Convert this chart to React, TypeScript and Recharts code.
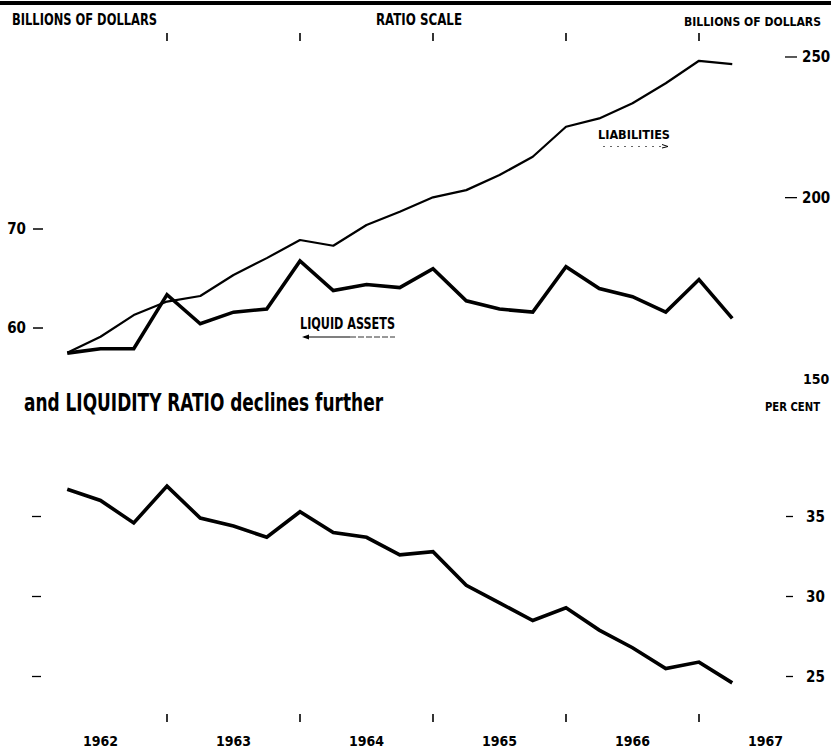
import React from 'react';
import { LineChart, Line, XAxis, YAxis } from 'recharts';

const FONT = "'Liberation Sans Narrow', 'DejaVu Sans Condensed', 'Roboto Condensed', 'Liberation Sans', sans-serif";

// quarter-end dates (years)
const quarterEnds = [
  1962.25, 1962.5, 1962.75, 1963.0,
  1963.25, 1963.5, 1963.75, 1964.0,
  1964.25, 1964.5, 1964.75, 1965.0,
  1965.25, 1965.5, 1965.75, 1966.0,
  1966.25, 1966.5, 1966.75, 1967.0,
  1967.25,
];
// billions of dollars (left, ratio scale)
const liquidAssets = [
  57.7, 58.1, 58.1, 63.2, 60.4, 61.5, 61.8, 66.6, 63.6, 64.2, 63.9,
  65.8, 62.6, 61.8, 61.5, 66.0, 63.8, 63.0, 61.5, 64.7, 60.9,
];
// billions of dollars (right, ratio scale)
const liabilities = [
  156.4, 160.4, 166.0, 169.6, 171.1, 176.9, 181.7, 187.0, 185.3, 191.5, 195.6,
  200.1, 202.4, 207.3, 213.4, 223.8, 226.8, 232.3, 239.8, 248.5, 247.2,
];
// per cent
const liquidityRatio = [
  36.7, 36.0, 34.6, 36.9, 34.9, 34.4, 33.7, 35.3, 34.0, 33.7, 32.6,
  32.8, 30.7, 29.6, 28.5, 29.3, 27.9, 26.8, 25.5, 25.9, 24.6,
];

const leftTicks = [60, 70];
const rightTicks = [150, 200, 250];
const ratioTicks = [25, 30, 35];
const yearBoundaries = [1963, 1964, 1965, 1966, 1967];
const yearLabels = ['1962', '1963', '1964', '1965', '1966', '1967'];
const yearLabelPositions = [1962.5, 1963.5, 1964.5, 1965.5, 1966.5, 1967.5];

const topData = quarterEnds.map((t, i) => ({ t, liquid: liquidAssets[i], liab: liabilities[i] }));
const bottomData = quarterEnds.map((t, i) => ({ t, ratio: liquidityRatio[i] }));

const W = 831;
const H = 748;
const X_DOMAIN: [number, number] = [1962, 1962 + 736 / 133];

const TopTick = (props: any) => {
  const { x } = props;
  return <line x1={x} x2={x} y1={33} y2={41} stroke="#000" strokeWidth={1.6} />;
};

const LeftTopTick = (props: any) => {
  const { y, payload } = props;
  return (
    <g>
      <text x={26} y={y} dy={5} textAnchor="end" fontFamily={FONT} fontWeight="bold" fontSize={15} fill="#000">
        {payload.value}
      </text>
      <line x1={33} x2={43} y1={y} y2={y} stroke="#000" strokeWidth={1.5} />
    </g>
  );
};

const RightTopTick = (props: any) => {
  const { y, payload } = props;
  const v = payload.value;
  if (v === 150) {
    return (
      <text x={803} y={y} dy={5} fontFamily={FONT} fontWeight="bold" fontSize={14} fill="#000">
        {v}
      </text>
    );
  }
  return (
    <g>
      <line x1={785} x2={797} y1={y} y2={y} stroke="#000" strokeWidth={1.3} />
      <text x={802} y={y} dy={5} fontFamily={FONT} fontWeight="bold" fontSize={15} fill="#000">
        {v}
      </text>
    </g>
  );
};

const BottomXTick = (props: any) => {
  const { x, payload } = props;
  const v = payload.value;
  if (Number.isInteger(v)) {
    return <line x1={x} x2={x} y1={714} y2={722} stroke="#000" strokeWidth={1.6} />;
  }
  const idx = yearLabelPositions.indexOf(v);
  return (
    <text x={x} y={746} textAnchor="middle" fontFamily={FONT} fontWeight="bold" fontSize={14} fill="#000">
      {yearLabels[idx]}
    </text>
  );
};

const LeftBottomTick = (props: any) => {
  const { y } = props;
  return <line x1={32} x2={41} y1={y} y2={y} stroke="#000" strokeWidth={1.3} />;
};

const RightBottomTick = (props: any) => {
  const { y, payload } = props;
  return (
    <g>
      <line x1={786} x2={793} y1={y} y2={y} stroke="#000" strokeWidth={1.3} />
      <text x={806} y={y} dy={5} fontFamily={FONT} fontWeight="bold" fontSize={15} fill="#000">
        {payload.value}
      </text>
    </g>
  );
};

export default function App() {
  const bottomTicks = [...yearLabelPositions, ...yearBoundaries].sort((a, b) => a - b);
  return (
    <div style={{ position: 'absolute', left: 0, top: 0, width: W, height: H, background: '#fff' }}>
      <div style={{ position: 'absolute', left: 0, top: 0 }}>
        <LineChart width={W} height={H} data={topData} margin={{ top: 10, right: 0, bottom: 358, left: 0 }}>
          <XAxis
            dataKey="t"
            type="number"
            domain={X_DOMAIN}
            allowDataOverflow
            ticks={yearBoundaries}
            interval={0}
            orientation="top"
            height={30}
            axisLine={false}
            tickLine={false}
            tick={TopTick}
          />
          <YAxis
            yAxisId="left"
            orientation="left"
            scale="log"
            domain={[54.48, 93.95]}
            allowDataOverflow
            ticks={leftTicks}
            interval={0}
            width={34}
            axisLine={false}
            tickLine={false}
            tick={LeftTopTick}
          />
          <YAxis
            yAxisId="right"
            orientation="right"
            scale="log"
            domain={[147.4, 256.83]}
            allowDataOverflow
            ticks={rightTicks}
            interval={0}
            width={61}
            axisLine={false}
            tickLine={false}
            tick={RightTopTick}
          />
          <Line
            yAxisId="right"
            dataKey="liab"
            type="linear"
            stroke="#000"
            strokeWidth={2.2}
            strokeLinejoin="round"
            dot={false}
            isAnimationActive={false}
          />
          <Line
            yAxisId="left"
            dataKey="liquid"
            type="linear"
            stroke="#000"
            strokeWidth={3.6}
            strokeLinejoin="miter"
            dot={false}
            isAnimationActive={false}
          />
        </LineChart>
      </div>
      <div style={{ position: 'absolute', left: 0, top: 0 }}>
        <LineChart width={W} height={H} data={bottomData} margin={{ top: 436.5, right: 0, bottom: 0, left: 0 }}>
          <XAxis
            dataKey="t"
            type="number"
            domain={X_DOMAIN}
            allowDataOverflow
            ticks={bottomTicks}
            interval={0}
            orientation="bottom"
            height={23.5}
            axisLine={false}
            tickLine={false}
            tick={BottomXTick}
          />
          <YAxis
            yAxisId="l"
            orientation="left"
            type="number"
            domain={[22, 40]}
            allowDataOverflow
            ticks={ratioTicks}
            interval={0}
            width={34}
            axisLine={false}
            tickLine={false}
            tick={LeftBottomTick}
          />
          <YAxis
            yAxisId="r"
            orientation="right"
            type="number"
            domain={[22, 40]}
            allowDataOverflow
            ticks={ratioTicks}
            interval={0}
            width={61}
            axisLine={false}
            tickLine={false}
            tick={RightBottomTick}
          />
          <Line
            yAxisId="l"
            dataKey="ratio"
            type="linear"
            stroke="#000"
            strokeWidth={3.6}
            strokeLinejoin="miter"
            dot={false}
            isAnimationActive={false}
          />
        </LineChart>
      </div>
      <svg width={W} height={H} style={{ position: 'absolute', left: 0, top: 0, pointerEvents: 'none' }}>
        <rect x={0} y={1} width={W} height={4} fill="#000" />
        <text x={12} y={25} fontFamily={FONT} fontWeight="bold" fontSize={16} textLength={145} lengthAdjust="spacingAndGlyphs" fill="#000">
          BILLIONS OF DOLLARS
        </text>
        <text x={376} y={25} fontFamily={FONT} fontWeight="bold" fontSize={16} textLength={86} lengthAdjust="spacingAndGlyphs" fill="#000">
          RATIO SCALE
        </text>
        <text x={684} y={26} fontFamily={FONT} fontWeight="bold" fontSize={13} textLength={137} lengthAdjust="spacingAndGlyphs" fill="#000">
          BILLIONS OF DOLLARS
        </text>
        <text x={598} y={139} fontFamily={FONT} fontWeight="bold" fontSize={13} textLength={72} lengthAdjust="spacingAndGlyphs" fill="#000">
          LIABILITIES
        </text>
        <line x1={603} x2={664} y1={146.5} y2={146.5} stroke="#666" strokeWidth={1} strokeDasharray="2 5" />
        <path d="M 662 144.5 L 668 146.5 L 662 148" stroke="#000" strokeWidth={1} fill="none" />
        <text x={300} y={329} fontFamily={FONT} fontWeight="bold" fontSize={15} textLength={95} lengthAdjust="spacingAndGlyphs" fill="#000">
          LIQUID ASSETS
        </text>
        <line x1={304} x2={350} y1={337} y2={337} stroke="#000" strokeWidth={1.2} />
        <line x1={350} x2={395} y1={337} y2={337} stroke="#333" strokeWidth={1} strokeDasharray="6 2" />
        <path d="M 302 337 L 309 334.5 L 309 339.5 Z" fill="#000" />
        <text x={24} y={411} fontFamily={FONT} fontWeight="bold" fontSize={24} textLength={359} lengthAdjust="spacingAndGlyphs" fill="#000">
          and LIQUIDITY RATIO declines further
        </text>
        <text x={765} y={411} fontFamily={FONT} fontWeight="bold" fontSize={13} textLength={55} lengthAdjust="spacingAndGlyphs" fill="#000">
          PER CENT
        </text>
      </svg>
    </div>
  );
}
